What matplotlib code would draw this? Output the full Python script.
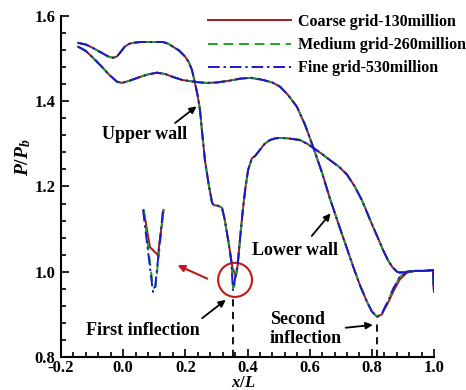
import matplotlib
matplotlib.use("Agg")
import matplotlib.pyplot as plt
from matplotlib.patches import Ellipse
from matplotlib.ticker import MultipleLocator

# ---- data ----
# upper wall (same for all grids except in the dip)
x_upper = [-0.145, -0.120, -0.097, -0.070, -0.048, -0.033, -0.020, -0.010, 0.005, 0.020,
           0.032, 0.055, 0.077, 0.100, 0.128, 0.145, 0.160, 0.180, 0.199, 0.211,
           0.221, 0.231, 0.240, 0.247, 0.255, 0.263, 0.275, 0.286, 0.292, 0.305,
           0.318, 0.326, 0.334, 0.342, 0.348]
p_upper = [1.537, 1.533, 1.525, 1.514, 1.505, 1.502, 1.505, 1.514, 1.528, 1.535,
           1.537, 1.539, 1.539, 1.539, 1.539, 1.535, 1.528, 1.519, 1.505, 1.492,
           1.474, 1.443, 1.412, 1.380, 1.320, 1.262, 1.205, 1.162, 1.156, 1.155,
           1.150, 1.125, 1.091, 1.055, 1.025]
x_upper_after = [0.369, 0.377, 0.385, 0.393, 0.402, 0.414, 0.425, 0.440, 0.455, 0.472,
                 0.490, 0.505, 0.530, 0.569, 0.590, 0.611, 0.640, 0.665, 0.695, 0.720,
                 0.745, 0.768, 0.784, 0.800, 0.818, 0.836, 0.852, 0.866, 0.881, 0.890,
                 0.913, 0.940, 0.970, 0.997, 1.000]
p_upper_after = [1.021, 1.085, 1.145, 1.195, 1.239, 1.266, 1.272, 1.286, 1.300, 1.309,
                 1.313, 1.314, 1.313, 1.309, 1.301, 1.291, 1.276, 1.262, 1.246, 1.228,
                 1.200, 1.168, 1.140, 1.112, 1.082, 1.051, 1.027, 1.011, 1.000, 0.998,
                 1.000, 1.002, 1.002, 1.004, 0.953]

# dip of the upper wall near x/L = 0.36
x_dip_fine = [0.348, 0.351, 0.353, 0.356, 0.360, 0.369]
p_dip_fine = [1.025, 0.985, 0.957, 0.962, 0.985, 1.021]
x_dip_medium = [0.348, 0.351, 0.354, 0.357, 0.361, 0.369]
p_dip_medium = [1.025, 0.990, 0.962, 0.965, 0.988, 1.021]
x_dip_coarse = [0.348, 0.352, 0.358, 0.363, 0.366, 0.369]
p_dip_coarse = [1.025, 1.008, 0.998, 0.990, 1.000, 1.021]

# lower wall
x_lower = [-0.145, -0.120, -0.097, -0.070, -0.045, -0.020, -0.004, 0.020, 0.054, 0.080,
           0.109, 0.135, 0.160, 0.190, 0.225, 0.250, 0.270, 0.300, 0.340, 0.376,
           0.410, 0.450, 0.480, 0.505, 0.530, 0.559, 0.585, 0.611, 0.640, 0.665,
           0.690, 0.715, 0.740, 0.762, 0.784, 0.800, 0.817, 0.832, 0.850, 0.870,
           0.890, 0.913, 0.940, 0.970, 0.997, 1.000]
p_lower = [1.528, 1.518, 1.502, 1.482, 1.462, 1.446, 1.443, 1.448, 1.457, 1.463,
           1.467, 1.464, 1.457, 1.450, 1.446, 1.444, 1.443, 1.444, 1.448, 1.453,
           1.455, 1.450, 1.444, 1.434, 1.415, 1.387, 1.345, 1.293, 1.232, 1.172,
           1.118, 1.065, 1.012, 0.968, 0.930, 0.907, 0.894, 0.902, 0.928, 0.962,
           0.988, 1.000, 1.002, 1.002, 1.004, 0.953]
# coarse grid departs slightly near the junction
p_lower_coarse = [1.528, 1.518, 1.502, 1.482, 1.462, 1.446, 1.443, 1.448, 1.457, 1.463,
                  1.467, 1.464, 1.457, 1.450, 1.446, 1.444, 1.443, 1.444, 1.448, 1.453,
                  1.455, 1.450, 1.444, 1.434, 1.415, 1.387, 1.345, 1.293, 1.232, 1.172,
                  1.118, 1.065, 1.012, 0.968, 0.930, 0.907, 0.894, 0.900, 0.924, 0.955,
                  0.982, 0.998, 1.002, 1.002, 1.004, 0.953]

# magnified view of the first inflection (drawn as in the source)
x_zoom_fine = [0.064, 0.093, 0.096, 0.102, 0.128]
p_zoom_fine = [1.145, 0.969, 0.953, 0.957, 1.145]
x_zoom_medium = [0.066, 0.094, 0.099, 0.104, 0.130]
p_zoom_medium = [1.145, 0.975, 0.962, 0.965, 1.145]
x_zoom_coarse = [0.066, 0.086, 0.112, 0.130]
p_zoom_coarse = [1.145, 1.058, 1.039, 1.145]

labels = ["Coarse grid-130million", "Medium grid-260million", "Fine grid-530million"]

plt.rcParams['font.family'] = ['Liberation Serif', 'DejaVu Serif']
plt.rcParams['font.weight'] = 'bold'
plt.rcParams['mathtext.fontset'] = 'custom'
plt.rcParams['mathtext.it'] = 'Liberation Serif:italic:bold'
plt.rcParams['mathtext.rm'] = 'Liberation Serif:bold'

fig = plt.figure(figsize=(4.66, 3.90), dpi=100)
ax = fig.add_axes([61/466, 1 - 357/390, 373/466, 341/390])

styles = [
    dict(color='#a81818', ls='-', lw=1.4),
    dict(color='#22a022', ls=(0, (5, 3)), lw=1.4),
    dict(color='#1a1ac8', ls=(0, (6, 2, 1.2, 2)), lw=1.4),
]

dips = [(x_dip_coarse, p_dip_coarse), (x_dip_medium, p_dip_medium), (x_dip_fine, p_dip_fine)]
lowers = [p_lower_coarse, p_lower, p_lower]
zooms = [(x_zoom_coarse, p_zoom_coarse), (x_zoom_medium, p_zoom_medium), (x_zoom_fine, p_zoom_fine)]

for st, lab, (xd, pd_), pl, (xz, pz) in zip(styles, labels, dips, lowers, zooms):
    xu = x_upper + xd[1:-1] + x_upper_after
    pu = p_upper + pd_[1:-1] + p_upper_after
    ax.plot(xu, pu, label=lab, **st)
    ax.plot(x_lower, pl, **st)
    ax.plot(xz, pz, **st)

ax.set_xlim(-0.2, 1.0)
ax.set_ylim(0.8, 1.6)
ax.xaxis.set_major_locator(MultipleLocator(0.2))
ax.xaxis.set_minor_locator(MultipleLocator(0.04))
ax.yaxis.set_major_locator(MultipleLocator(0.2))
ax.yaxis.set_minor_locator(MultipleLocator(0.04))
ax.xaxis.set_major_formatter(plt.FuncFormatter(lambda v, p: f"{v:.1f}"))
ax.yaxis.set_major_formatter(plt.FuncFormatter(lambda v, p: f"{v:.1f}"))
ax.tick_params(which='both', direction='in', width=1.2, labelsize=12)
ax.tick_params(which='major', length=6)
ax.tick_params(which='minor', length=3.5)
ax.tick_params(axis='y', pad=4)
ax.tick_params(axis='x', pad=2)
for s in ['top', 'right']:
    ax.spines[s].set_visible(False)
for s in ['left', 'bottom']:
    ax.spines[s].set_linewidth(1.5)

ax.set_xlabel(r'$x/L$', fontsize=12)
ax.set_ylabel(r'$P/P_b$', fontsize=14)
ax.xaxis.set_label_coords(0.49, -0.054)
ax.yaxis.set_label_coords(-0.075, 0.585)

# inflection markers
ax.plot([0.353, 0.353], [0.8, 0.938], color='black', ls=(0, (4, 3)), lw=1.3)
ax.plot([0.817, 0.817], [0.8, 0.888], color='black', ls=(0, (4, 3)), lw=1.3)
ax.add_patch(Ellipse((0.360, 0.981), 0.109, 0.080, fill=False, color='#c01818', lw=1.5))

arr = dict(arrowstyle='-|>', color='black', lw=1.3, mutation_scale=10)
ax.annotate('', xy=(0.243, 1.392), xytext=(0.160, 1.345), arrowprops=arr)
ax.annotate('', xy=(0.673, 1.142), xytext=(0.601, 1.079), arrowprops=arr)
ax.annotate('', xy=(0.337, 0.938), xytext=(0.247, 0.887), arrowprops=arr)
ax.annotate('', xy=(0.812, 0.876), xytext=(0.707, 0.868), arrowprops=arr)
ax.annotate('', xy=(0.167, 1.018), xytext=(0.279, 0.981),
            arrowprops=dict(arrowstyle='-|>', color='#c01818', lw=1.5, mutation_scale=10))

ax.text(0.070, 1.321, 'Upper wall', fontsize=13, ha='center', va='center')
ax.text(0.553, 1.051, 'Lower wall', fontsize=13, ha='center', va='center')
ax.text(0.064, 0.863, 'First inflection', fontsize=13, ha='center', va='center')
ax.text(0.472, 0.866, 'Second\ninflection', fontsize=13, ha='left', va='center',
        linespacing=1.15)

handles, labs = ax.get_legend_handles_labels()
fig.legend(handles, labs, loc='upper left', bbox_to_anchor=(208/466, 1 - 14/390),
           frameon=False, fontsize=11.5, handlelength=5.2, handletextpad=0.45,
           labelspacing=0.45, borderpad=0, borderaxespad=0)

fig.savefig('out.png', dpi=100)
